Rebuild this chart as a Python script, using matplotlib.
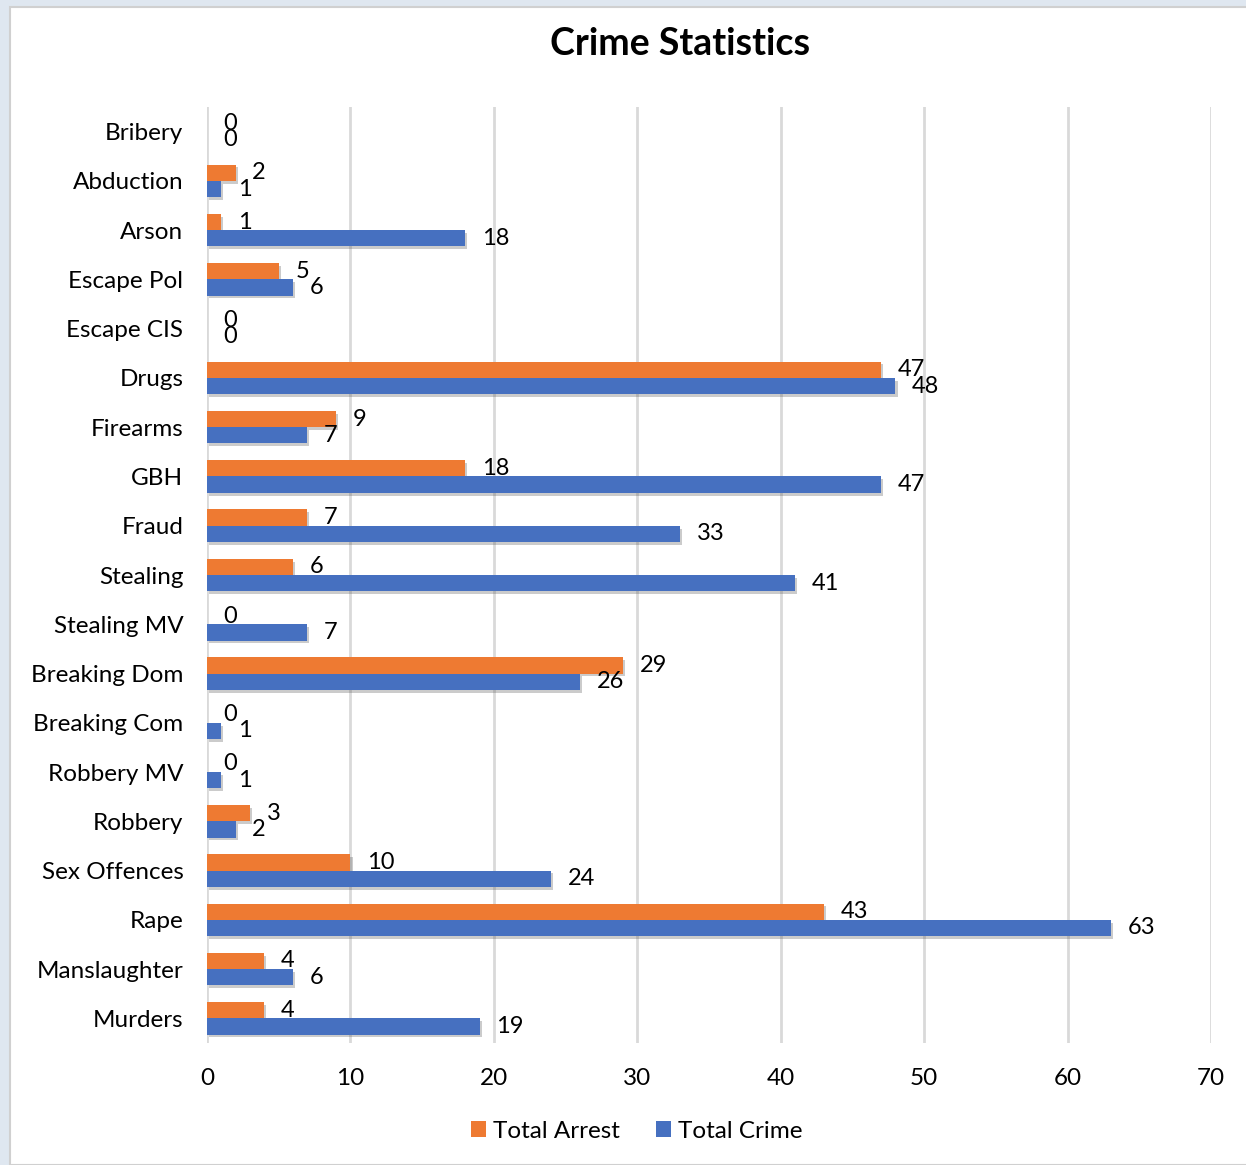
import numpy as np
import matplotlib
matplotlib.use("Agg")
import matplotlib.pyplot as plt
import matplotlib.patheffects as pe
from matplotlib.patches import Rectangle

plt.rcParams['font.family'] = ['Lato', 'DejaVu Sans']

# crime types, listed top to bottom
categories = ["Bribery", "Abduction", "Arson", "Escape Pol", "Escape CIS", "Drugs",
              "Firearms", "GBH", "Fraud", "Stealing", "Stealing MV", "Breaking Dom",
              "Breaking Com", "Robbery MV", "Robbery", "Sex Offences", "Rape",
              "Manslaughter", "Murders"]
total_arrest = [0, 2, 1, 5, 0, 47, 9, 18, 7, 6, 0, 29, 0, 0, 3, 10, 43, 4, 4]
total_crime = [0, 1, 18, 6, 0, 48, 7, 47, 33, 41, 7, 26, 1, 1, 2, 24, 63, 6, 19]

orange = "#EE7A32"
blue = "#4670C0"

fig = plt.figure(figsize=(12.46, 11.65), dpi=100)
fig.patch.set_facecolor("#dfe7f0")
# white chart area sitting on the slide background
fig.patches.append(Rectangle((10 / 1246, 0), 1, 1 - 7 / 1165, transform=fig.transFigure,
                             facecolor="white", edgecolor="#d0d0d0", lw=1.5, zorder=-10))

ax = fig.add_axes([207 / 1246, 1 - 1043 / 1165, 1004 / 1246, 936 / 1165])
ax.set_facecolor("none")

y = np.arange(len(categories))
h = 0.33
shadow = [pe.SimplePatchShadow(offset=(1.5, -2), shadow_rgbFace="#555555", alpha=0.3),
          pe.Normal()]
b1 = ax.barh(y - h / 2, total_arrest, height=h, color=orange, label="Total Arrest", zorder=3)
b2 = ax.barh(y + h / 2, total_crime, height=h, color=blue, label="Total Crime", zorder=3)
for bar in list(b1) + list(b2):
    if bar.get_width() > 0:
        bar.set_path_effects(shadow)

for yi, v in zip(y - h / 2, total_arrest):
    ax.annotate(str(v), (v, yi), xytext=(12, 0), textcoords="offset points",
                ha="left", va="center", fontsize=17, zorder=4)
for yi, v in zip(y + h / 2, total_crime):
    ax.annotate(str(v), (v, yi), xytext=(12, 0), textcoords="offset points",
                ha="left", va="center", fontsize=17, zorder=4)

ax.set_xlim(0, 70)
ax.set_ylim(len(categories) - 0.5, -0.5)
ax.set_xticks(range(0, 71, 10))
ax.set_yticks(y)
ax.set_yticklabels(categories)
ax.tick_params(axis="both", length=0, labelsize=17.5)
ax.tick_params(axis="y", pad=17)
ax.tick_params(axis="x", pad=18)
ax.grid(axis="x", color="#d9d9d9", lw=2, zorder=0)
ax.set_axisbelow(True)
for s in ax.spines.values():
    s.set_visible(False)

fig.text(680 / 1246, 1 - 44 / 1165, "Crime Statistics", ha="center", va="center",
         fontsize=27, fontweight="bold")

fig.legend(handles=[b1, b2], loc="center", bbox_to_anchor=(637 / 1246, 1 - 1131 / 1165),
           ncol=2, frameon=False, fontsize=17.5, handlelength=0.6, handleheight=0.6,
           handletextpad=0.3, columnspacing=1.5)

fig.savefig("out.png", dpi=100)
